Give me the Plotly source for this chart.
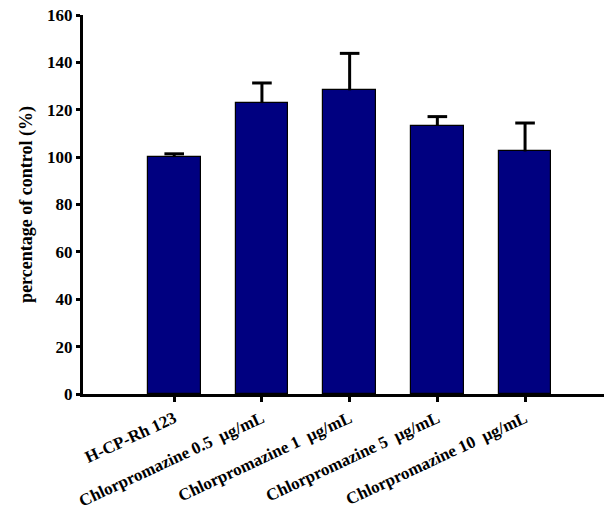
import plotly.graph_objects as go

categories = ["H-CP-Rh 123", "Chlorpromazine 0.5  µg/mL", "Chlorpromazine 1  µg/mL",
              "Chlorpromazine 5  µg/mL", "Chlorpromazine 10  µg/mL"]
values = [100.0, 122.8, 128.2, 113.2, 102.4]
errors_up = [1.4, 8.5, 15.6, 3.9, 12.0]
y_ticks = [0, 20, 40, 60, 80, 100, 120, 140, 160]

x_idx = list(range(len(categories)))
err_top = [v + e for v, e in zip(values, errors_up)]

fig = go.Figure()
fig.add_trace(go.Bar(
    x=x_idx, y=values, width=0.6,
    marker=dict(color="#000080", line=dict(color="black", width=1.2)),
    error_y=dict(type="data", symmetric=False, array=errors_up,
                 arrayminus=[0]*len(values), color="black", thickness=3, width=0),
))
# caps of the one-sided error bars
fig.add_trace(go.Scatter(
    x=x_idx, y=err_top, mode="markers",
    marker=dict(symbol="line-ew", size=14, color="black", line=dict(color="black", width=3)),
    hoverinfo="skip",
))

font_family = "Liberation Serif, Times New Roman, serif"
fig.update_layout(
    width=604, height=514,
    margin=dict(l=83, r=0, t=15, b=120),
    plot_bgcolor="white", paper_bgcolor="white",
    showlegend=False,
    font=dict(family=font_family, color="black"),
    bargap=0,
)
fig.update_xaxes(
    range=[-1.04, 4.9], tickmode="array", tickvals=x_idx,
    ticktext=["<b>%s</b>" % c.replace("  ", "&nbsp; ") for c in categories],
    tickangle=-25, ticks="outside", ticklen=5, tickwidth=3, tickcolor="black",
    showline=True, linewidth=3, linecolor="black", showgrid=False, zeroline=False,
    tickfont=dict(size=17, family=font_family, color="black"),
    automargin=False, ticklabeloverflow="allow",
)
fig.update_yaxes(
    range=[0, 160], tickvals=y_ticks,
    ticktext=["<b>%d</b>" % v for v in y_ticks],
    ticks="outside", ticklen=4, tickwidth=3, tickcolor="black",
    showline=True, linewidth=3, linecolor="black", showgrid=False, zeroline=False,
    tickfont=dict(size=17, family=font_family, color="black"),
    title=dict(text="<b>percentage of control (%)</b>", font=dict(size=18, family=font_family, color="black"), standoff=10),
    automargin=False, ticklabeloverflow="allow",
)
fig.write_html("out.html", config={"displayModeBar": False},
               post_script="document.body.style.margin='0';")
